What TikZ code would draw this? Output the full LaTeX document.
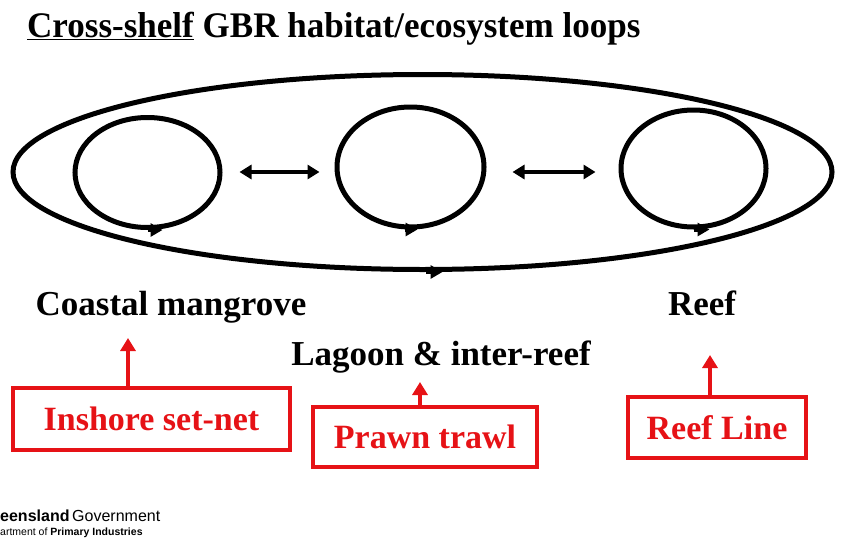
\documentclass[tikz,border=0pt]{standalone}
\usepackage{fontspec}
\usepackage{graphicx}
\setmainfont{Liberation Serif}
\newfontfamily\logofont{Liberation Sans}
\usetikzlibrary{shapes.geometric,arrows.meta}
\definecolor{gearred}{RGB}{230,18,22}
\begin{document}
\begin{tikzpicture}[x=1pt,y=-1pt,
  loop/.style={ellipse, draw, line width=5pt, inner sep=0pt},
  looptip/.style={-{Triangle[length=12pt,width=13pt]}, line width=4.5pt},
  link/.style={{Triangle[length=12pt,width=14pt]}-{Triangle[length=12pt,width=14pt]}, line width=3.8pt},
  habitat/.style={font=\bfseries\fontsize{35}{40}\selectfont, anchor=base, inner sep=0pt},
  gear/.style={draw=gearred, line width=4.5pt, text=gearred, font=\bfseries\fontsize{34}{40}\selectfont, inner sep=0pt},
  gearlink/.style={-{Triangle[length=13pt,width=15pt]}, line width=4.5pt, draw=gearred}]
\useasboundingbox (0,0) rectangle (845,538);
% title
\node[anchor=base west, inner sep=0pt, font=\bfseries\fontsize{36}{40}\selectfont] (title) at (27,37)
  {\scalebox{0.973}[1]{\underline{Cross-shelf} GBR habitat/ecosystem loops}};
% loops
\node[loop, minimum width=819pt, minimum height=195pt] (shelf) at (422.5,172) {};
\node[loop, minimum width=145pt, minimum height=110pt] (mang) at (147.5,172.5) {};
\node[loop, minimum width=147pt, minimum height=120pt] (lag) at (410.5,167) {};
\node[loop, minimum width=145pt, minimum height=117pt] (reefl) at (693.5,168.5) {};
\draw[looptip] (shelf.south) ++(3,0) -- ++(17,0);
\draw[looptip] (mang.south) ++(0,0) -- ++(15,0);
\draw[looptip] (lag.south) ++(-6,0) -- ++(13,0);
\draw[looptip] (reefl.south) ++(0,0) -- ++(16,0);
\coordinate (ay) at (0,172);
\draw[link] ([xshift=17pt]mang.east |- ay) -- ([xshift=-15pt]lag.west |- ay);
\draw[link] ([xshift=26pt]lag.east |- ay) -- ([xshift=-23pt]reefl.west |- ay);
% habitat labels
\node[habitat] (coast) at (171,315) {Coastal mangrove};
\node[habitat] (reef) at (702,315) {Reef};
\node[habitat] (lagoon) at (441,365) {Lagoon \& inter-reef};
% gear boxes
\node[gear, minimum width=277pt, minimum height=62pt] (setnet) at (151.5,419) {Inshore set-net};
\node[gear, minimum width=224pt, minimum height=60pt] (trawl) at (425,437) {Prawn trawl};
\node[gear, minimum width=178pt, minimum height=61pt] (line) at (717,427.5) {Reef Line};
\coordinate (t1) at (128,338);
\coordinate (t2) at (420,382);
\coordinate (t3) at (710,355);
\draw[gearlink] (t1 |- setnet.north) -- (t1);
\draw[gearlink] (t2 |- trawl.north) -- (t2);
\draw[gearlink] (t3 |- line.north) -- (t3);
% logo
\node[anchor=base west, inner sep=0pt, font=\logofont\fontsize{16}{18}\selectfont] (logo1) at (0,521)
  {\textbf{eensland}\,Government};
\node[anchor=base west, inner sep=0pt, font=\logofont\fontsize{10.5}{12}\selectfont] (logo2) at (0,535)
  {artment of \textbf{Primary Industries}};
\end{tikzpicture}
\end{document}
